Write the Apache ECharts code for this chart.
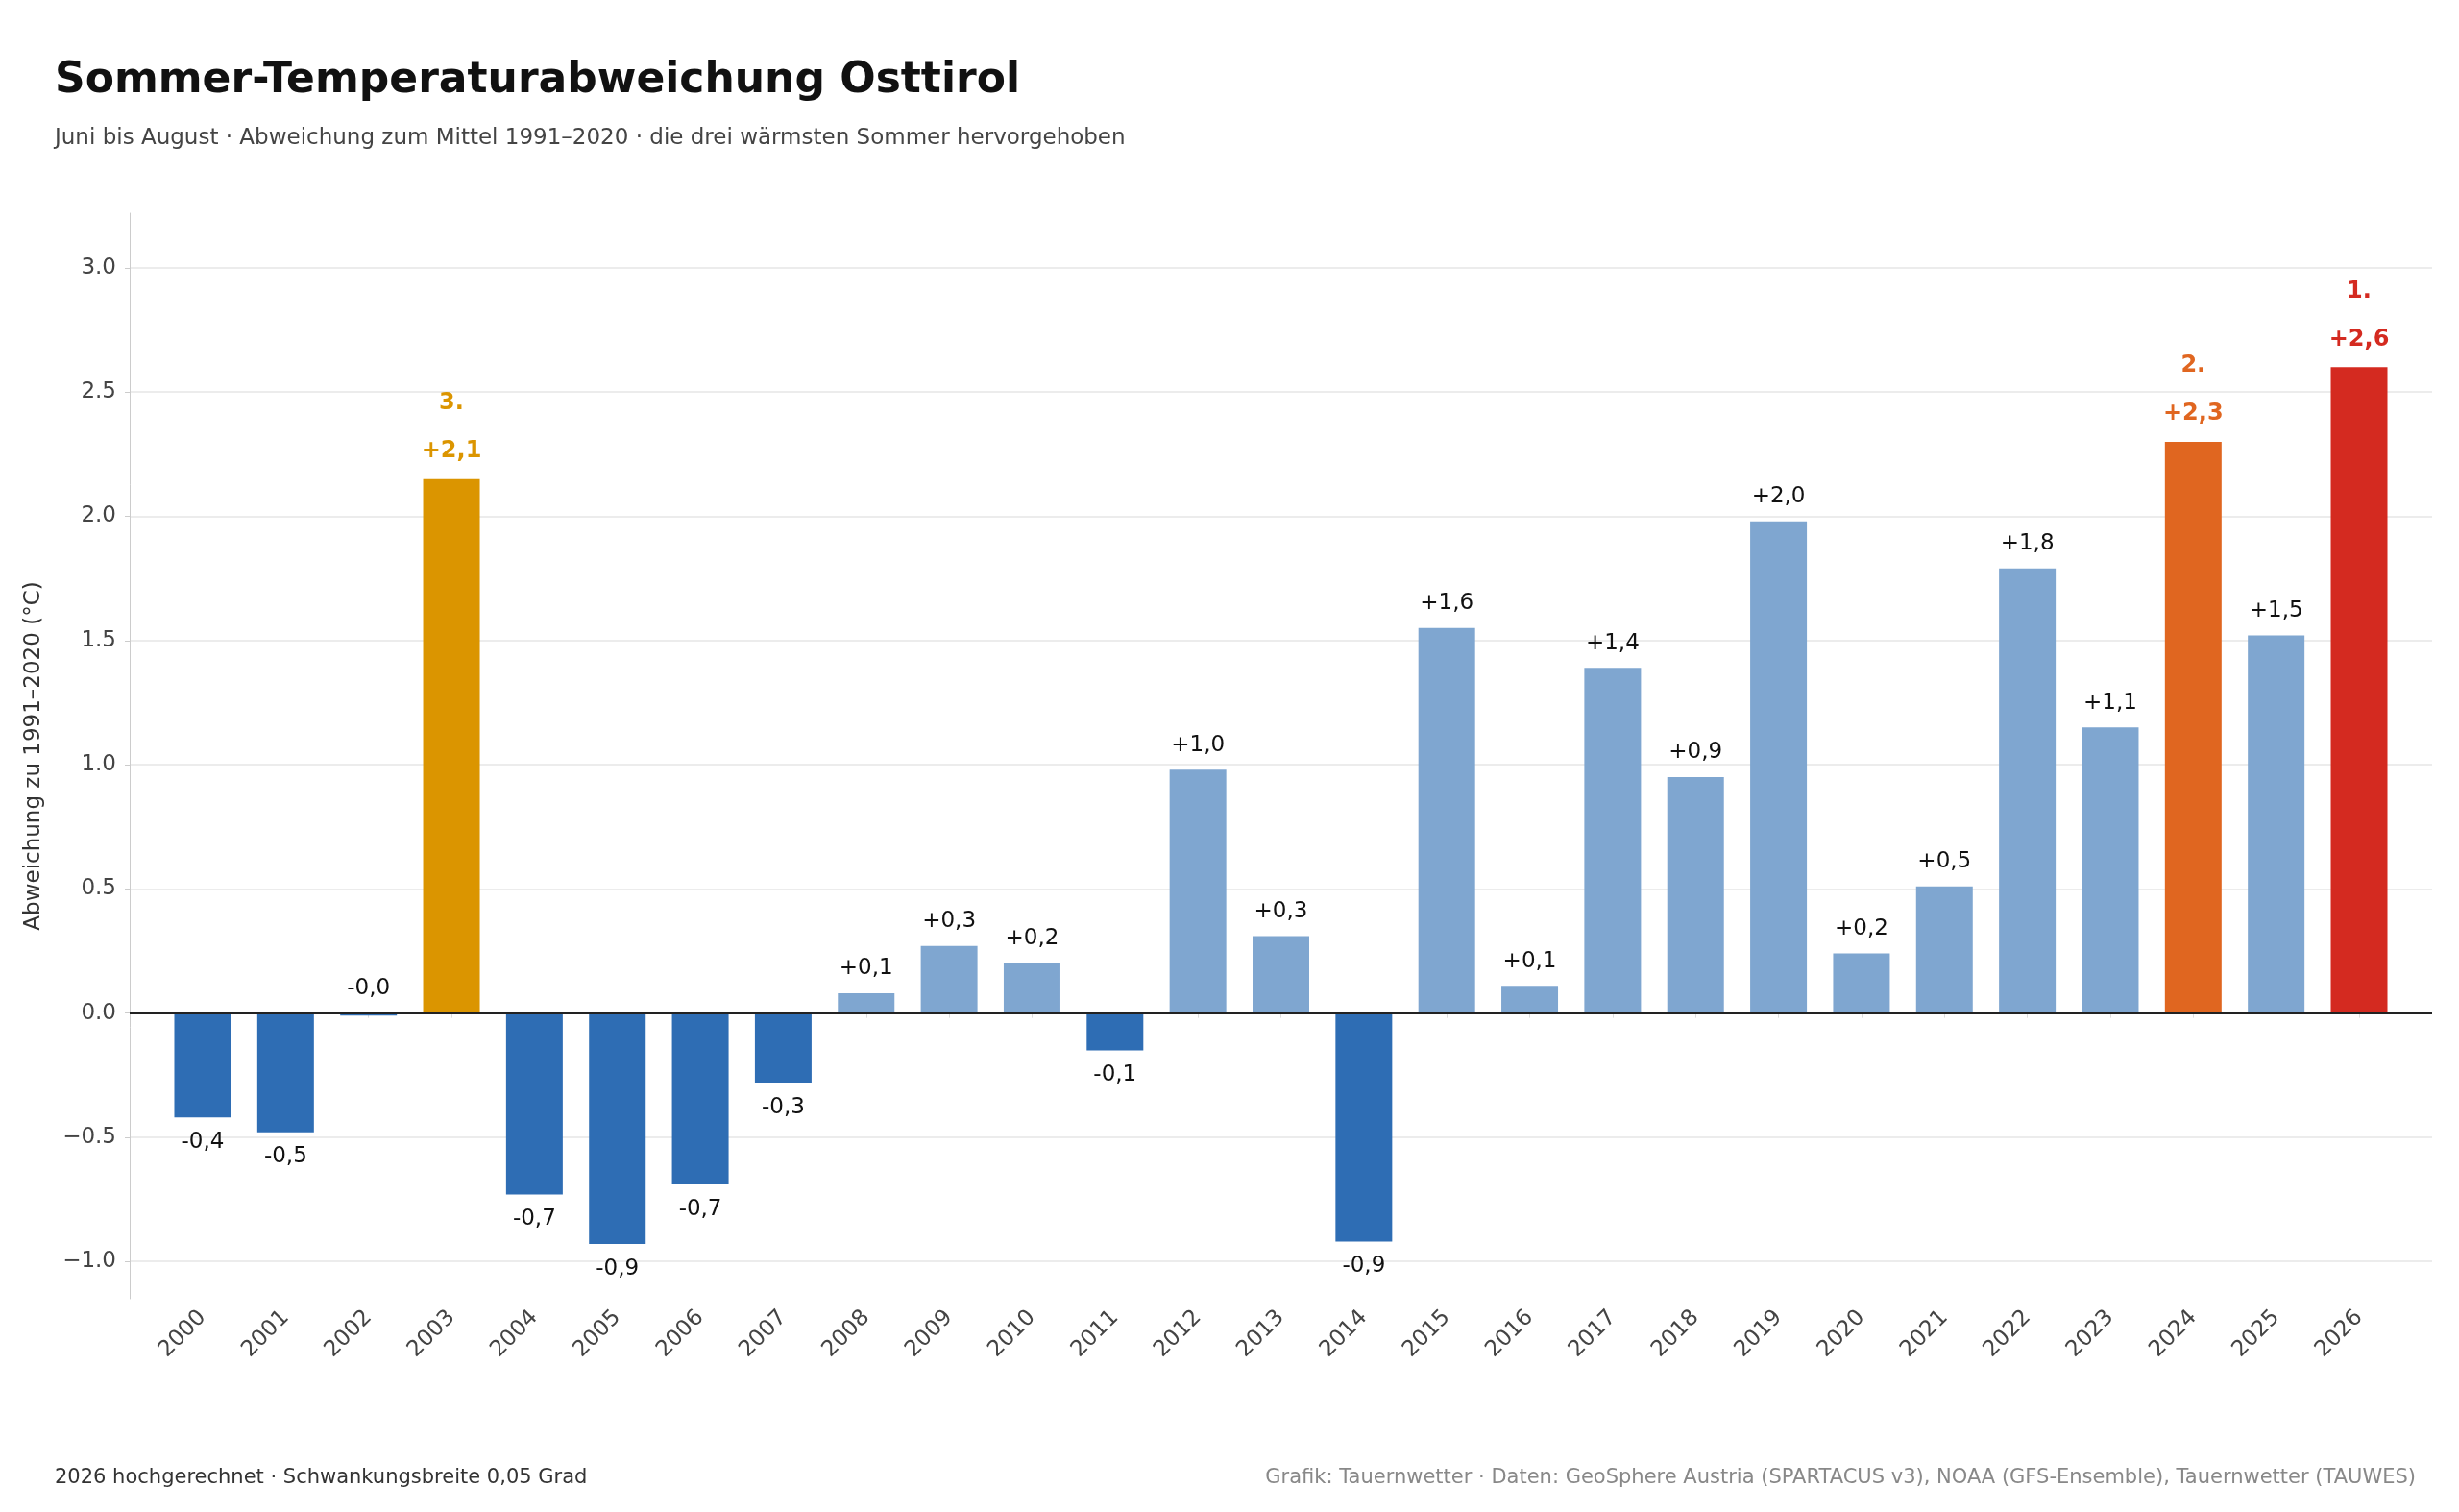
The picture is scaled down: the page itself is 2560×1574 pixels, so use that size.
<!DOCTYPE html>
<html><head><meta charset="utf-8">
<script src="https://cdn.jsdelivr.net/npm/echarts@6/dist/echarts.min.js"></script>
<style>html,body{margin:0;background:#fff}#c{width:2560px;height:1574px}</style>
</head><body><div id="c"></div>
<script>
var years = ['2000','2001','2002','2003','2004','2005','2006','2007','2008','2009','2010','2011','2012','2013',
  '2014','2015','2016','2017','2018','2019','2020','2021','2022','2023','2024','2025','2026'];
var anomalies = [-0.42,-0.48,-0.01,2.15,-0.73,-0.93,-0.69,-0.28,0.08,0.27,0.20,-0.15,0.98,0.31,
  -0.92,1.55,0.11,1.39,0.95,1.98,0.24,0.51,1.79,1.15,2.30,1.52,2.60];
var ranks = {'2026': 1, '2024': 2, '2003': 3};
var rankColors = {1: '#d42a20', 2: '#e06620', 3: '#db9500'};
var yTicks = [-1.0,-0.5,0,0.5,1.0,1.5,2.0,2.5,3.0];
var xTicks = years.map(function (y, i) { return i; });

function fmt(v){
  var s = Math.abs(v).toFixed(1).replace('.', ',');
  return (v < 0 ? '-' : '+') + s;
}

var data = anomalies.map(function (v, i) {
  var r = ranks[years[i]];
  var color = r ? rankColors[r] : (v < 0 ? '#2e6db4' : '#7fa6d0');
  var item = {value: [i, v], itemStyle: {color: color}};
  if (r) {
    item.label = {
      show: true, position: 'top', distance: 14,
      formatter: '{r|' + r + '.}\n{v|' + fmt(v) + '}',
      rich: {
        r: {color: color, fontSize: 24, fontWeight: 'bold', lineHeight: 70, fontFamily: 'DejaVu Sans'},
        v: {color: color, fontSize: 24, fontWeight: 'bold', lineHeight: 30, fontFamily: 'DejaVu Sans'}
      }
    };
  } else {
    item.label = {show: true, position: (v < 0 && Math.abs(v) >= 0.05) ? 'bottom' : 'top', distance: 14};
  }
  return item;
});

var chart = echarts.init(document.getElementById('c'));
chart.setOption({
  animation: false,
  textStyle: {fontFamily: 'DejaVu Sans'},
  title: [
    {text: 'Sommer-Temperaturabweichung Osttirol', left: 52, top: 58,
      textStyle: {fontSize: 44, fontWeight: 'bold', color: '#111'}},
    {text: 'Juni bis August · Abweichung zum Mittel 1991–2020 · die drei wärmsten Sommer hervorgehoben',
      left: 52, top: 128, textStyle: {fontSize: 23, fontWeight: 'normal', color: '#444'}},
    {text: '2026 hochgerechnet · Schwankungsbreite 0,05 Grad', left: 52, top: 1523,
      textStyle: {fontSize: 21, fontWeight: 'normal', color: '#333'}},
    {text: 'Grafik: Tauernwetter · Daten: GeoSphere Austria (SPARTACUS v3), NOAA (GFS-Ensemble), Tauernwetter (TAUWES)',
      right: 40, top: 1523, textStyle: {fontSize: 21, fontWeight: 'normal', color: '#888'}}
  ],
  grid: {left: 135, right: 28, top: 222, bottom: 222},
  xAxis: {
    type: 'value', min: -0.88, max: 26.88,
    axisLine: {show: false},
    splitLine: {show: false},
    axisTick: {show: true, customValues: xTicks, length: 5, lineStyle: {color: '#ddd'}},
    axisLabel: {rotate: 45, fontSize: 23, color: '#444', margin: 16, customValues: xTicks,
      formatter: function (v) { return years[Math.round(v)]; }}
  },
  yAxis: {
    type: 'value', min: -1.15, max: 3.22,
    name: 'Abweichung zu 1991–2020 (°C)', nameLocation: 'middle', nameGap: 88,
    nameTextStyle: {fontSize: 23, color: '#333'},
    axisLine: {show: true, onZero: false, lineStyle: {color: '#ccc'}},
    axisTick: {show: true, customValues: yTicks, lineStyle: {color: '#ccc'}},
    axisLabel: {fontSize: 23, color: '#444', customValues: yTicks, margin: 14,
      formatter: function (v) { return (v < 0 ? '\u2212' : '') + Math.abs(v).toFixed(1); }},
    splitLine: {show: false}
  },
  series: [{
    type: 'line', data: [], z: 1, silent: true,
    markLine: {
      silent: true, symbol: 'none', label: {show: false}, z: 0,
      data: yTicks.filter(function (t) { return t !== 0; }).map(function (t) {
        return {yAxis: t, lineStyle: {color: '#e6e6e6', width: 1.5, type: 'solid'}};
      })
    }
  }, {
    type: 'bar', data: data, barWidth: 59, z: 3,
    label: {fontSize: 23, color: '#111', formatter: function (p) { return fmt(p.value[1]); }},
    markLine: {
      silent: true, symbol: 'none', label: {show: false},
      data: [{yAxis: 0, lineStyle: {color: '#222', width: 2, type: 'solid'}}]
    }
  }]
});
</script></body></html>
